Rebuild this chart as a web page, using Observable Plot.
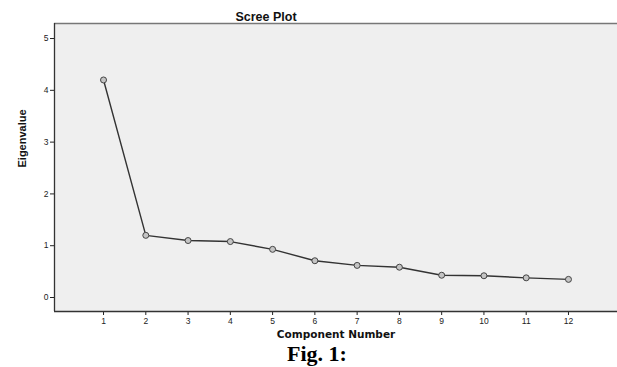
<!DOCTYPE html>
<html><head><meta charset="utf-8">
<script src="https://cdn.jsdelivr.net/npm/d3@7"></script>
<script src="https://cdn.jsdelivr.net/npm/@observablehq/plot@0.6"></script>
<style>
body{margin:0;background:#fff;}
#fig{width:617px;height:22px;font:bold 22px "Liberation Serif","Times New Roman",serif;color:#000;text-align:center;padding-left:17px;box-sizing:border-box;line-height:18px;}
</style>
</head><body>
<div id="chart"></div>
<div id="fig">Fig. 1:</div>
<script>
const components = [1,2,3,4,5,6,7,8,9,10,11,12];
const eigenvalues = [4.20,1.20,1.10,1.08,0.93,0.71,0.62,0.585,0.43,0.42,0.38,0.35];
const xTicks = [1,2,3,4,5,6,7,8,9,10,11,12];
const yTicks = [0,1,2,3,4,5];
const xDomain = [-0.16, 13.16];
const yDomain = [-0.27, 5.29];
const title = "Scree Plot";
const xLabel = "Component Number";
const yLabel = "Eigenvalue";

const data = components.map((c,i)=>({c, v: eigenvalues[i]}));

const chart = Plot.plot({
  width: 617, height: 345,
  marginLeft: 54, marginRight: 0, marginTop: 23, marginBottom: 34,
  style: {background:"transparent", fontFamily:"'Liberation Sans', Arial, sans-serif", fontSize:"8.5px", color:"#222"},
  x: {domain: xDomain, ticks: xTicks, tickSize: 4, tickPadding: 2, tickFormat: d => String(d), label: null},
  y: {domain: yDomain, ticks: yTicks, tickSize: 4, tickPadding: 2, tickFormat: d => String(d), label: null},
  marks: [
    Plot.frame({fill:"#efefef", stroke:null}),
    Plot.ruleY([yDomain[1]], {stroke:"#777", strokeWidth:1.5}),
    Plot.ruleX([xDomain[0]], {stroke:"#333", strokeWidth:1.3}),
    Plot.ruleY([yDomain[0]], {stroke:"#333", strokeWidth:1.3}),
    Plot.line(data, {x:"c", y:"v", stroke:"#333", strokeWidth:1.4}),
    Plot.dot(data, {x:"c", y:"v", r:3, fill:"#c4c4c4", stroke:"#444", strokeWidth:1}),
    Plot.text([title], {frameAnchor:"top", dx:-70, dy:-11, fontWeight:"bold", fontSize:12.5, fill:"#111", fontFamily:"'Liberation Sans', Arial, sans-serif"}),
    Plot.text([xLabel], {frameAnchor:"bottom", dy:26, fontWeight:"bold", fontSize:10.5, fill:"#111", fontFamily:"'DejaVu Sans', Verdana, sans-serif", letterSpacing:"0.4px"}),
    Plot.text([yLabel], {frameAnchor:"left", dx:-32, rotate:-90, fontWeight:"bold", fontSize:11, fill:"#111", fontFamily:"'Liberation Sans Narrow', 'Arial Narrow', 'Liberation Sans', sans-serif"})
  ]
});
document.getElementById("chart").append(chart);
</script>
</body></html>
